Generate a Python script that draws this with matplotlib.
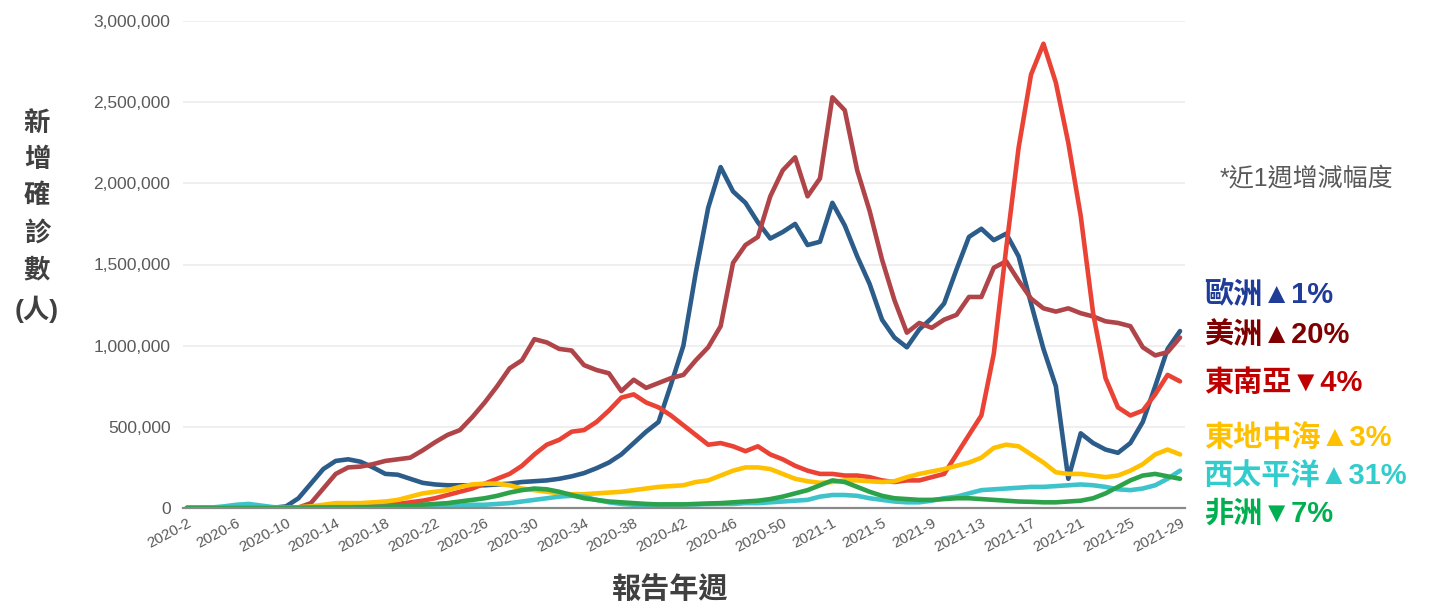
import numpy as np
import matplotlib
matplotlib.use('Agg')
import matplotlib.pyplot as plt
from matplotlib.ticker import FuncFormatter

plt.rcParams['font.family'] = ['Liberation Sans', 'Noto Sans CJK TC', 'DejaVu Sans']

# report weeks: 2020-2 .. 2020-53, 2021-1 .. 2021-29
weeks = ['2020-%d' % w for w in range(2, 54)] + ['2021-%d' % w for w in range(1, 30)]
tick_labels = ['2020-2', '2020-6', '2020-10', '2020-14', '2020-18', '2020-22', '2020-26',
               '2020-30', '2020-34', '2020-38', '2020-42', '2020-46', '2020-50', '2021-1',
               '2021-5', '2021-9', '2021-13', '2021-17', '2021-21', '2021-25', '2021-29']

# weekly new cases, thousands
europe = [0, 0, 0, 0, 1, 1, 1, 2, 10, 60, 150, 240, 290, 300, 285, 250, 210, 205, 180, 155,
          145, 140, 140, 140, 140, 145, 150, 160, 165, 170, 180, 195, 215, 245, 280, 330, 400, 470, 530, 760,
          1000, 1450, 1850, 2100, 1950, 1880, 1760, 1660, 1700, 1750, 1620, 1640, 1880, 1740, 1550, 1380, 1160, 1050, 990, 1100,
          1170, 1260, 1470, 1670, 1720, 1650, 1690, 1550, 1260, 980, 750, 180, 460, 400, 360, 340, 400, 530, 750, 980,
          1090]
americas = [0, 0, 0, 0, 0, 0, 0, 0, 1, 3, 30, 120, 210, 250, 255, 270, 290, 300, 310, 355,
            405, 450, 480, 560, 650, 750, 860, 910, 1040, 1020, 980, 970, 880, 850, 830, 720, 790, 740, 770, 800,
            820, 910, 990, 1120, 1510, 1620, 1670, 1920, 2080, 2160, 1920, 2030, 2530, 2450, 2080, 1830, 1530, 1280, 1080, 1140,
            1110, 1160, 1190, 1300, 1300, 1480, 1520, 1400, 1290, 1230, 1210, 1230, 1200, 1180, 1150, 1140, 1120, 990, 940, 960,
            1050]
se_asia = [0, 0, 0, 0, 0, 0, 0, 0, 0, 1, 1, 2, 2, 3, 8, 12, 18, 25, 35, 45,
           60, 80, 100, 120, 150, 180, 210, 260, 330, 390, 420, 470, 480, 530, 600, 680, 700, 650, 620, 570,
           510, 450, 390, 400, 380, 350, 380, 330, 300, 260, 230, 210, 210, 200, 200, 190, 170, 160, 170, 170,
           190, 210, 330, 450, 570, 950, 1600, 2220, 2670, 2860, 2620, 2250, 1800, 1200, 800, 620, 570, 600, 700, 820,
           780]
e_med = [0, 0, 0, 0, 1, 1, 1, 1, 2, 5, 10, 20, 30, 30, 30, 35, 40, 50, 70, 90,
         100, 110, 130, 145, 150, 150, 140, 120, 110, 100, 90, 85, 85, 90, 95, 100, 110, 120, 130, 135,
         140, 160, 170, 200, 230, 250, 250, 240, 210, 180, 165, 155, 160, 170, 170, 165, 160, 165, 190, 210,
         225, 240, 260, 280, 310, 370, 390, 380, 330, 280, 220, 210, 210, 200, 190, 200, 230, 270, 330, 360,
         330]
w_pacific = [0, 0, 3, 10, 20, 25, 15, 5, 3, 4, 5, 5, 5, 5, 6, 6, 7, 7, 8, 8,
             9, 10, 15, 20, 20, 25, 30, 40, 50, 60, 70, 75, 70, 50, 35, 25, 20, 20, 20, 22,
             22, 22, 24, 25, 25, 30, 30, 35, 40, 45, 50, 70, 80, 80, 75, 60, 50, 40, 35, 35,
             45, 60, 70, 90, 110, 115, 120, 125, 130, 130, 135, 140, 145, 140, 130, 115, 110, 120, 140, 180,
             230]
africa = [0, 0, 0, 0, 0, 0, 0, 0, 1, 1, 2, 2, 3, 3, 4, 5, 8, 10, 15, 20,
          25, 30, 40, 50, 60, 75, 95, 110, 120, 115, 100, 80, 60, 50, 40, 35, 30, 25, 22, 22,
          22, 25, 28, 30, 35, 40, 45, 55, 70, 90, 110, 140, 170, 160, 130, 100, 75, 60, 55, 50,
          50, 55, 60, 60, 55, 50, 45, 40, 38, 35, 35, 40, 45, 60, 90, 130, 170, 200, 210, 195,
          180]

# right-hand notes: name + change over last week
note_names = ['歐洲▲1%', '美洲▲20%', '東南亞▼4%', '東地中海▲3%', '西太平洋▲31%', '非洲▼7%']

W, H = 1430, 603
fig = plt.figure(figsize=(W / 100, H / 100), dpi=100)
ax = fig.add_axes([183 / W, 1 - 508 / H, 1002 / W, 487 / H])

x = np.arange(len(weeks))
series = [(europe, '#2b5c8a'), (americas, '#b04549'), (se_asia, '#ea4335'),
          (e_med, '#ffc000'), (w_pacific, '#3ec3cb'), (africa, '#2ca34a')]
for vals, col in series:
    ax.plot(x, np.array(vals) * 1000, color=col, lw=3.3, solid_joinstyle='round', solid_capstyle='round')

ax.set_xlim(-0.3, 80.4)
ax.set_ylim(0, 3000000)
ax.set_yticks(np.arange(0, 3000001, 500000))
ax.yaxis.set_major_formatter(FuncFormatter(lambda v, p: f'{v:,.0f}'))
ax.grid(axis='y', color='#ececec', lw=1.2)
ax.set_axisbelow(True)
for s in ['top', 'right', 'left']:
    ax.spines[s].set_visible(False)
ax.spines['bottom'].set_color('#8a8a8a')
ax.spines['bottom'].set_linewidth(1.6)
ax.tick_params(axis='y', length=0, pad=9, labelsize=12.5, labelcolor='#5a5a5a')

ax.set_xticks([weeks.index(t) for t in tick_labels])
ax.set_xticklabels(tick_labels, rotation=28, ha='right', rotation_mode='anchor')
ax.tick_params(axis='x', length=0, pad=6, labelsize=11, labelcolor='#5a5a5a')

# axis titles
fig.text(37 / W, 1 - 217 / H, '新\n增\n確\n診\n數\n(人)', ha='center', va='center',
         fontsize=19, fontweight='bold', color='#404040', linespacing=1.6)
fig.text(670 / W, 1 - 590 / H, '報告年週', ha='center', va='center',
         fontsize=21, fontweight='bold', color='#404040')

fig.text(1220 / W, 1 - 178 / H, '*近1週增減幅度', ha='left', va='center',
         fontsize=18, color='#595959')
note_colors = ['#1f3c98', '#7f0000', '#c00000', '#ffc000', '#33cccc', '#00b050']
note_y = [295, 335, 383, 438, 476, 514]
for name, col, yy in zip(note_names, note_colors, note_y):
    fig.text(1204 / W, 1 - yy / H, name, ha='left', va='center',
             fontsize=21, fontweight='bold', color=col)

plt.savefig('out.png', dpi=100)
